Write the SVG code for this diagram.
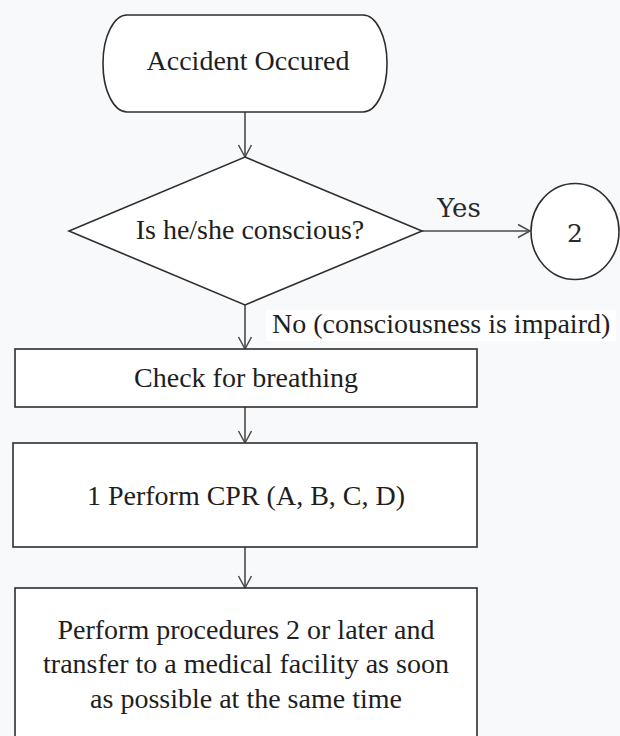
<svg xmlns="http://www.w3.org/2000/svg" width="620" height="736" viewBox="0 0 620 736">
<style>
  .shape { fill: #ffffff; stroke: #2e2e2e; stroke-width: 1.6; }
  .conn { fill: none; stroke: #4a4a4a; stroke-width: 1.6; marker-end: url(#arr); }
  .t { font-family: "Liberation Serif", "Times New Roman", serif; font-size: 28px; fill: #1e1e1e; text-anchor: middle; }
  .c { font-family: "DejaVu Serif", "Liberation Serif", serif; fill: #2a2a2a; text-anchor: middle; }
</style>
<defs>
  <marker id="arr" viewBox="-14 -8 16 16" refX="0" refY="0" markerWidth="16" markerHeight="16" markerUnits="userSpaceOnUse" orient="auto">
    <path d="M -12 -6.5 L 0 0 L -12 6.5" fill="none" stroke="#4a4a4a" stroke-width="1.5"/>
  </marker>
</defs>
<rect x="0" y="0" width="620" height="736" fill="#f8f9fa"/>

<g id="connectors">
  <line class="conn" x1="245" y1="112" x2="245" y2="157"/>
  <line class="conn" x1="422" y1="231" x2="530" y2="231"/>
  <line class="conn" x1="245" y1="305" x2="245" y2="349"/>
  <line class="conn" x1="245" y1="407" x2="245" y2="443"/>
  <line class="conn" x1="245" y1="547" x2="245" y2="588"/>
  <text class="c" x="459" y="217" font-size="26">Yes</text>
  <rect x="266" y="310" width="350" height="31" fill="#ffffff"/>
  <text class="t" x="272" y="333" style="text-anchor:start">No (consciousness is impaird)</text>
</g>

<g id="start">
  <rect class="shape" x="103" y="15" width="284" height="97" rx="24" ry="48"/>
  <text class="t" x="248" y="70">Accident Occured</text>
</g>

<g id="decision">
  <polygon class="shape" points="245,157 422,231 245,305 69,231"/>
  <text class="t" x="250" y="239">Is he/she conscious?</text>
</g>

<g id="connector2">
  <ellipse class="shape" cx="575" cy="231.5" rx="44" ry="48"/>
  <text class="c" x="575" y="242" font-size="25">2</text>
</g>

<g id="check">
  <rect class="shape" x="15" y="349" width="462" height="58"/>
  <text class="t" x="246" y="387">Check for breathing</text>
</g>

<g id="cpr">
  <rect class="shape" x="13" y="443" width="464" height="104"/>
  <text class="t" x="246" y="505">1 Perform CPR (A, B, C, D)</text>
</g>

<g id="transfer">
  <rect class="shape" x="15" y="588" width="462" height="160"/>
  <text class="t" x="246" y="639">Perform procedures 2 or later and</text>
  <text class="t" x="246" y="673">transfer to a medical facility as soon</text>
  <text class="t" x="246" y="708">as possible at the same time</text>
</g>
</svg>
